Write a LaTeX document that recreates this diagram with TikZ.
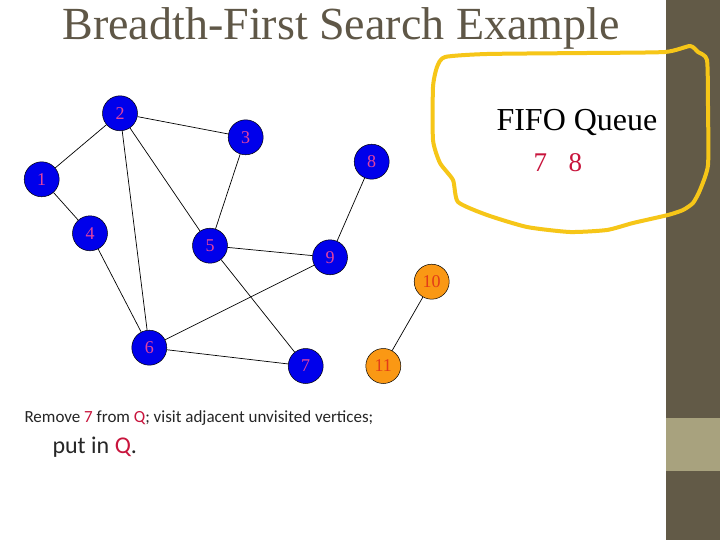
\documentclass[tikz,border=0pt]{standalone}
\usepackage{fontspec}
\setmainfont{Liberation Serif}
\newfontfamily\bodyfont{Carlito}
\definecolor{vblue}{RGB}{0,0,235}
\definecolor{vpink}{RGB}{226,66,160}
\definecolor{vorange}{RGB}{250,152,20}
\definecolor{vred}{RGB}{226,60,24}
\definecolor{ttlgray}{RGB}{95,87,71}
\definecolor{band}{RGB}{98,90,71}
\definecolor{bandlight}{RGB}{168,162,126}
\definecolor{qred}{RGB}{200,20,60}
\definecolor{hiyellow}{RGB}{246,198,24}
\tikzset{slide/.style={x=1pt,y=-1pt}}
\tikzset{vtx/.style={circle,draw=black,line width=0.5pt,fill=vblue,text=vpink,
           minimum size=35pt,inner sep=0pt,font=\fontsize{18}{18}\selectfont},
         vnew/.style={vtx,fill=vorange,text=vred},
         link/.style={black,line width=0.7pt},
         hilite/.style={hiyellow,line width=4pt,line join=round,line cap=round}}

\begin{document}
\begin{tikzpicture}[slide]
    \useasboundingbox (0,0) rectangle (720,540);
    \fill[white] (0,0) rectangle (720,540);
    \fill[band] (666,0) rectangle (720,540);
    \fill[bandlight] (666,418) rectangle (720,471);
    % title
    \node[ttlgray,anchor=base,font=\fontsize{46}{46}\selectfont] (title) at (341,40) {Breadth-First Search Example};
    % vertices
    \node[vtx]  (v1)  at (41.7,179.3) {1};
    \node[vtx]  (v2)  at (120,113.3)  {2};
    \node[vtx]  (v3)  at (245.7,137.3) {3};
    \node[vtx]  (v4)  at (90,233.3)   {4};
    \node[vtx]  (v5)  at (210,245.7)  {5};
    \node[vtx]  (v6)  at (149.3,347.7) {6};
    \node[vtx]  (v7)  at (305.7,366)  {7};
    \node[vtx]  (v8)  at (371.7,161.7) {8};
    \node[vtx]  (v9)  at (330,257.3)  {9};
    \node[vnew] (v10) at (431.7,281.7) {10};
    \node[vnew] (v11) at (383.3,366)  {11};
    % edges
    \foreach \a/\b in {v1/v2,v1/v4,v2/v3,v2/v5,v2/v6,v3/v5,v4/v6,v5/v9,v5/v7,v8/v9,v9/v6,v6/v7,v10/v11}
      \draw[link] (\a) -- (\b);
    % queue
    \node[anchor=base west,font=\fontsize{32}{32}\selectfont] (fifo) at (493,131) {FIFO Queue};
    \node[qred,anchor=base west,font=\fontsize{27}{27}\selectfont] (queue) at (530,172) {7\hspace{0.8em}8};
    \draw[hilite] plot[smooth cycle,tension=0.35] coordinates {
      (445,57) (487,54) (587,53) (665,52) (690,46) (698,52) (707,60) (708,107)
      (708,165) (700,190) (693,203) (683,210) (668,215) (633,223) (607,230)
      (570,232) (527,227) (487,215) (458,202) (453,180) (440,163) (433,140)
      (433,87) (437,67)};
    % caption
    \node[anchor=base west,font=\bodyfont\fontsize{17}{17}\selectfont,text=black!85] (step) at (21,422)
      {Remove \textcolor{qred}{7} from \textcolor{qred}{Q}; visit adjacent unvisited vertices;};
    \node[anchor=base west,font=\bodyfont\fontsize{24}{24}\selectfont,text=black!85] (putq) at (49,453)
      {put in \textcolor{qred}{Q}.};
  \end{tikzpicture}
\end{document}
